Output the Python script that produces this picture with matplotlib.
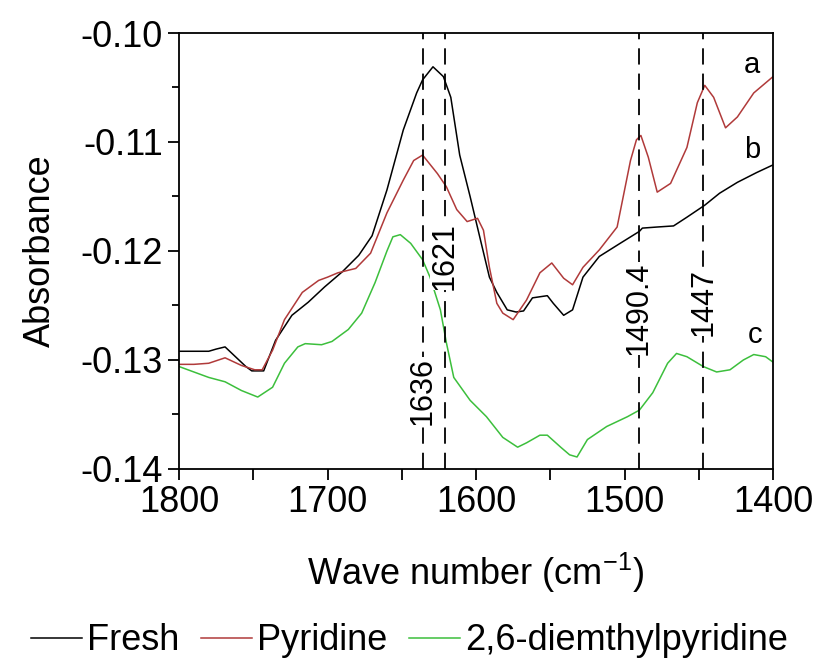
import matplotlib
matplotlib.use('Agg')
import matplotlib.pyplot as plt
from matplotlib.ticker import MultipleLocator, FormatStrFormatter

plt.rcParams['font.family'] = ['Liberation Sans', 'DejaVu Sans']
plt.rcParams['axes.unicode_minus'] = False
plt.rcParams['mathtext.default'] = 'regular'

# Fresh (b)
wn_fresh = [1800, 1790, 1780, 1775, 1769, 1762, 1755, 1751, 1743, 1735, 1724, 1713, 1702, 1690,
            1679, 1670, 1660, 1649, 1640, 1636, 1629, 1622, 1617, 1611, 1604, 1597, 1591, 1586,
            1579, 1573, 1568, 1562, 1552, 1548, 1541, 1535, 1528, 1517, 1503, 1490, 1488, 1478,
            1467, 1458, 1446, 1436, 1424, 1411, 1400]
abs_fresh = [-0.1292, -0.1292, -0.1292, -0.1290, -0.1288, -0.1297, -0.1306, -0.1310, -0.1310,
             -0.1282, -0.1259, -0.1247, -0.1233, -0.1219, -0.1204, -0.1186, -0.1144, -0.1089,
             -0.1055, -0.1043, -0.1031, -0.1040, -0.1059, -0.1112, -0.1150, -0.1190, -0.1224,
             -0.1238, -0.1254, -0.1256, -0.1255, -0.1243, -0.1241, -0.1248, -0.1259, -0.1254,
             -0.1224, -0.1205, -0.1193, -0.1182, -0.1179, -0.1178, -0.1177, -0.1169, -0.1158,
             -0.1147, -0.1137, -0.1128, -0.1121]

# Pyridine (a)
wn_pyr = [1800, 1790, 1780, 1769, 1758, 1749, 1744, 1737, 1729, 1717, 1706, 1700, 1693, 1681,
          1671, 1660, 1649, 1642, 1636, 1626, 1620, 1613, 1606, 1599, 1595, 1591, 1586, 1582,
          1575, 1566, 1557, 1549, 1541, 1535, 1528, 1517, 1505, 1496, 1492, 1489, 1484, 1478,
          1469, 1458, 1451, 1446, 1440, 1432, 1424, 1413, 1400]
abs_pyr = [-0.1304, -0.1304, -0.1303, -0.1298, -0.1305, -0.1309, -0.1309, -0.1291, -0.1263,
           -0.1238, -0.1227, -0.1224, -0.1220, -0.1216, -0.1202, -0.1165, -0.1135, -0.1117,
           -0.1112, -0.1129, -0.1141, -0.1162, -0.1173, -0.1170, -0.1181, -0.1215, -0.1248,
           -0.1257, -0.1263, -0.1245, -0.1220, -0.1211, -0.1225, -0.1231, -0.1215, -0.1199,
           -0.1178, -0.1117, -0.1098, -0.1094, -0.1114, -0.1146, -0.1138, -0.1105, -0.1064,
           -0.1048, -0.1059, -0.1087, -0.1077, -0.1055, -0.1040]

# 2,6-diemthylpyridine (c)
wn_dmp = [1800, 1790, 1780, 1769, 1758, 1747, 1737, 1729, 1720, 1715, 1704, 1697, 1686, 1677,
          1668, 1660, 1656, 1651, 1644, 1636, 1631, 1624, 1620, 1615, 1604, 1593, 1582, 1572,
          1566, 1557, 1552, 1543, 1537, 1532, 1525, 1512, 1498, 1490, 1481, 1471, 1465, 1458,
          1447, 1438, 1429, 1420, 1413, 1405, 1400]
abs_dmp = [-0.1306, -0.1311, -0.1316, -0.1320, -0.1328, -0.1334, -0.1325, -0.1303, -0.1288,
           -0.1285, -0.1286, -0.1283, -0.1272, -0.1257, -0.1229, -0.1200, -0.1187, -0.1185,
           -0.1193, -0.1208, -0.1224, -0.1254, -0.1284, -0.1316, -0.1337, -0.1352, -0.1371,
           -0.1380, -0.1376, -0.1369, -0.1369, -0.1380, -0.1387, -0.1389, -0.1373, -0.1361,
           -0.1352, -0.1346, -0.1330, -0.1303, -0.1294, -0.1297, -0.1306, -0.1311, -0.1309,
           -0.1300, -0.1295, -0.1297, -0.1302]

peak_pos = [1636, 1621, 1490.4, 1447]
peak_text = ['1636', '1621', '1490.4', '1447']
peak_text_y = [-0.1328, -0.1205, -0.1253, -0.1247]

fig = plt.figure(figsize=(8.19, 6.64), dpi=100)
ax = fig.add_axes([0.2186, 0.2937, 0.7253, 0.6566])

ax.plot(wn_fresh, abs_fresh, color='black', lw=1.1, label='Fresh')
ax.plot(wn_pyr, abs_pyr, color='#b03a3a', lw=1.1, label='Pyridine')
ax.plot(wn_dmp, abs_dmp, color='#3cbf3c', lw=1.1, label='2,6-diemthylpyridine')

# peak markers
for p, t, ty in zip(peak_pos, peak_text, peak_text_y):
    ax.axvline(p, color='black', lw=1.3, linestyle=(0, (9, 5)))
    ax.text(p, ty, t, rotation=90, ha='center', va='center', fontsize=22,
            bbox=dict(facecolor='white', edgecolor='none', pad=0))

ax.text(1414, -0.1029, 'a', fontsize=21, ha='center', va='center')
ax.text(1414, -0.1107, 'b', fontsize=21, ha='center', va='center')
ax.text(1412, -0.1277, 'c', fontsize=21, ha='center', va='center')

ax.set_xlim(1800, 1400)
ax.set_ylim(-0.14, -0.10)
ax.xaxis.set_major_locator(MultipleLocator(100))
ax.xaxis.set_minor_locator(MultipleLocator(50))
ax.yaxis.set_major_locator(MultipleLocator(0.01))
ax.yaxis.set_minor_locator(MultipleLocator(0.005))
ax.yaxis.set_major_formatter(FormatStrFormatter('%.2f'))
ax.tick_params(axis='both', which='major', direction='out', length=8, width=1.3,
               labelsize=26, top=False, right=False)
ax.tick_params(axis='x', which='minor', direction='out', length=8, width=1.3, top=False)
ax.tick_params(axis='y', which='minor', direction='out', length=5, width=1.3, right=False)
for s in ax.spines.values():
    s.set_linewidth(1.3)

ax.set_xlabel('Wave number (cm$^{-1}$)', fontsize=26, labelpad=22)
ax.set_ylabel('Absorbance', fontsize=26, labelpad=16)

fig.legend(loc='center', bbox_to_anchor=(0.5, 0.035), ncol=3, frameon=False, fontsize=26,
           handlelength=1.4, handletextpad=0.15, columnspacing=0.6, borderaxespad=0)

fig.savefig('out.png', dpi=100)
